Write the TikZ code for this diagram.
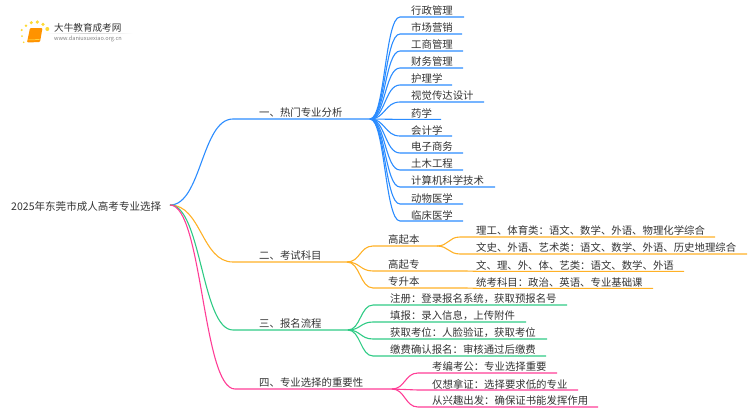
\documentclass[tikz,border=0pt]{standalone}
\usepackage{fontspec}
\setmainfont{Noto Sans CJK SC}
\usetikzlibrary{calc}
\definecolor{bluec}{HTML}{2B8CFF}
\definecolor{orangec}{HTML}{FFB126}
\definecolor{greenc}{HTML}{2FCB85}
\definecolor{pinkc}{HTML}{FF3D96}
\definecolor{textc}{HTML}{333333}
\tikzset{
    topic/.style={inner sep=0pt, text=textc, font=\fontsize{10.4}{12}\selectfont},
    link/.style={line width=1.1pt},
}
\newcommand\drawleaf[8]{ % 画分支:节点名,颜色,父节点,线的高度,线起点,文字起点,线终点,文字
    \coordinate (#1s) at (#5, #4);
    \coordinate (#1e) at (#7, #4);
    \node[topic, anchor=west] (#1) at (#6, #4-6) {#8};
    \draw[#2, link] (#3) .. controls ($(#3)!0.5!(#1s|-#3)$) and ($(#3|-#1s)!0.5!(#1s)$) .. (#1s) -- (#1e);
}
\begin{document}
\begin{tikzpicture}[x=1pt, y=-1pt]
        \useasboundingbox (0,0) rectangle (750,410);
        % 左上角标志
        \foreach \px/\py/\r in {22/36/1, 21.7/30/1.2, 26/25.7/1.4, 31.3/22.7/1.7, 37.3/22/1.8, 43/24.3/1.8, 47.3/29/2, 23.7/42.3/0.9} {
            \fill[yellow!70!orange!80] (\px, \py) circle (\r);
        }
        \fill[orange!85!yellow, rounded corners=1pt] (30,28) -- (42.5,28) -- (40,42) -- (27,42.5) -- cycle;
        \draw[yellow!60, line width=0.5pt] (28.5,40) -- (39.5,39.6);
        \shade[left color=white, right color=white, middle color=gray!35] (45,33) rectangle (133,33.6);
        \node[inner sep=0pt, anchor=west, text=textc, font=\fontsize{9.6}{11}\selectfont] (logotext) at (54,28) {大牛教育成考网};
        \node[inner sep=0pt, anchor=west, text=gray, font=\fontsize{5.6}{6}\selectfont] (logourl) at (54,39) {www.daniuxuexiao.org.cn};
        % 根节点
        \node[topic, anchor=west, font=\fontsize{10.55}{12}\selectfont] (root) at (11,206.5) {2025年东莞市成人高考专业选择};
        \coordinate (rootj) at (170,205);
        % 四个主分支
        \drawleaf{one}{bluec}{rootj}{119}{233}{259}{370}{一、热门专业分析}
        \drawleaf{two}{orangec}{rootj}{262}{233}{259}{347}{二、考试科目}
        \drawleaf{three}{greenc}{rootj}{330}{233}{259}{348}{三、报名流程}
        \drawleaf{four}{pinkc}{rootj}{389}{235}{259}{392}{四、专业选择的重要性}
        % 热门专业
        \foreach \ly/\xe/\t [count=\i] in {17/464/行政管理, 34/462/市场营销, 51/463/工商管理, 68/463/财务管理, 85/452/护理学, 102/484/视觉传达设计, 119.4/441/药学, 136/452/会计学, 153/463/电子商务, 170/463/土木工程, 187/495/计算机科学技术, 204/463/动物医学, 221/463/临床医学} {
            \drawleaf{major\i}{bluec}{onee}{\ly}{400}{411}{\xe}{\t}
        }
        % 考试科目
        \drawleaf{gqb}{orangec}{twoe}{246}{373}{388}{437}{高起本}
        \drawleaf{gqz}{orangec}{twoe}{271}{373}{388}{466}{高起专}
        \drawleaf{zsb}{orangec}{twoe}{288}{373}{388}{466}{专升本}
        \drawleaf{ligong}{orangec}{gqbe}{237}{460}{476}{715}{理工、体育类：语文、数学、外语、物理化学综合}
        \drawleaf{wenshi}{orangec}{gqbe}{254}{460}{476}{747}{文史、外语、艺术类：语文、数学、外语、历史地理综合}
        \drawleaf{wenli}{orangec}{gqze}{271.4}{480}{476}{684}{文、理、外、体、艺类：语文、数学、外语}
        \drawleaf{tongkao}{orangec}{zsbe}{288.4}{480}{476}{653}{统考科目：政治、英语、专业基础课}
        % 报名流程
        \drawleaf{reg1}{greenc}{threee}{305}{373}{390}{567}{注册：登录报名系统，获取预报名号}
        \drawleaf{reg2}{greenc}{threee}{322}{373}{390}{526}{填报：录入信息，上传附件}
        \drawleaf{reg3}{greenc}{threee}{339}{373}{390}{547}{获取考位：人脸验证，获取考位}
        \drawleaf{reg4}{greenc}{threee}{356}{373}{390}{546}{缴费确认报名：审核通过后缴费}
        % 重要性
        \drawleaf{imp1}{pinkc}{foure}{373}{418}{432}{557}{考编考公：专业选择重要}
        \drawleaf{imp2}{pinkc}{foure}{390}{418}{432}{578}{仅想拿证：选择要求低的专业}
        \drawleaf{imp3}{pinkc}{foure}{407}{418}{432}{598}{从兴趣出发：确保证书能发挥作用}
\end{tikzpicture}
\end{document}
